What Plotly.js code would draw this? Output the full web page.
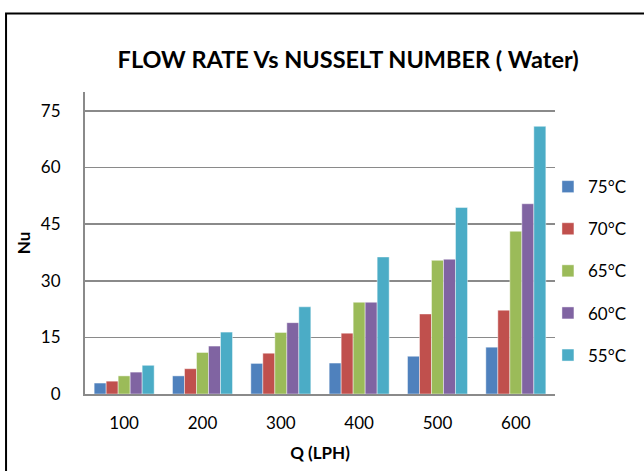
<!DOCTYPE html>
<html>
<head>
<meta charset="utf-8">
<script src="https://cdn.plot.ly/plotly-3.0.1.min.js"></script>
<style>
  html, body { margin: 0; padding: 0; background: #fff; }
  #chart { width: 644px; height: 471px; }
</style>
</head>
<body>
<div id="chart"></div>
<script>
// Flow rate categories (LPH)
const flowRates = ['100', '200', '300', '400', '500', '600'];

// Nusselt number for each inlet water temperature
const nu75 = [2.9, 4.8, 8.1, 8.2, 10.0, 12.4];
const nu70 = [3.4, 6.7, 10.8, 16.1, 21.2, 22.2];
const nu65 = [4.8, 11.0, 16.3, 24.3, 35.4, 43.1];
const nu60 = [5.8, 12.7, 18.9, 24.3, 35.7, 50.4];
const nu55 = [7.6, 16.4, 23.1, 36.3, 49.4, 70.9];

const seriesNames = ['75°C', '70°C', '65°C', '60°C', '55°C'];
const seriesValues = [nu75, nu70, nu65, nu60, nu55];
const seriesColors = ['#4F81BD', '#C0504D', '#9BBB59', '#8064A2', '#4BACC6'];

const yTicks = [0, 15, 30, 45, 60, 75];

const font = 'Lato, "Open Sans", sans-serif';

const traces = seriesNames.map((name, i) => ({
  type: 'bar',
  name: name,
  x: flowRates,
  y: seriesValues[i],
  legendgroup: 'g' + i,
  marker: {
    color: seriesColors[i],
    line: { color: 'rgba(255,255,255,0.55)', width: 0.8 }
  },
  hoverinfo: 'x+y+name'
}));

const gridGray = '#8a8a8a';

const layout = {
  width: 644,
  height: 471,
  margin: { l: 85, r: 89, t: 92, b: 77 },
  paper_bgcolor: '#ffffff',
  plot_bgcolor: '#ffffff',
  font: { family: font, color: '#000000', size: 17 },
  barmode: 'group',
  bargap: 0.234,
  bargroupgap: 0,
  showlegend: true,
  title: {
    text: '<b>FLOW RATE Vs NUSSELT NUMBER ( Water)</b>',
    font: { family: font, size: 23.5, color: '#000000' },
    xref: 'paper', x: 0.56, xanchor: 'center',
    yref: 'container', y: 0.873, yanchor: 'middle'
  },
  xaxis: {
    type: 'category',
    tickvals: flowRates,
    ticktext: flowRates,
    showline: true,
    linecolor: gridGray,
    linewidth: 2,
    showgrid: false,
    zeroline: false,
    ticks: 'outside',
    ticklen: 13,
    tickcolor: 'rgba(0,0,0,0)',
    tickfont: { family: font, size: 17, color: '#000000' },
    title: {
      text: '<b>Q (LPH)</b>',
      font: { family: font, size: 17, color: '#000000' },
      standoff: 15
    }
  },
  yaxis: {
    range: [0, 80],
    tickvals: yTicks,
    ticktext: yTicks.map(String),
    showline: true,
    linecolor: gridGray,
    linewidth: 2,
    showgrid: true,
    gridcolor: gridGray,
    gridwidth: 1.6,
    zeroline: false,
    ticks: 'outside',
    ticklen: 19,
    tickcolor: 'rgba(0,0,0,0)',
    tickfont: { family: font, size: 17, color: '#000000' },
    title: {
      text: '<b>Nu</b>',
      font: { family: font, size: 17, color: '#000000' },
      standoff: 6
    }
  },
  legend: {
    x: 0.985, xanchor: 'left',
    y: 0.407, yanchor: 'middle',
    font: { family: font, size: 17, color: '#000000' },
    tracegroupgap: 17,
    bgcolor: 'rgba(0,0,0,0)',
    borderwidth: 0
  },
  shapes: [{
    // chart frame
    type: 'rect',
    xref: 'paper', yref: 'paper',
    x0: -0.168, x1: 1.3,
    y0: -0.3, y1: 1.26,
    line: { color: '#000000', width: 2 },
    fillcolor: 'rgba(0,0,0,0)',
    layer: 'above'
  }]
};

Plotly.newPlot('chart', traces, layout, { displayModeBar: false, staticPlot: true });
</script>
</body>
</html>
